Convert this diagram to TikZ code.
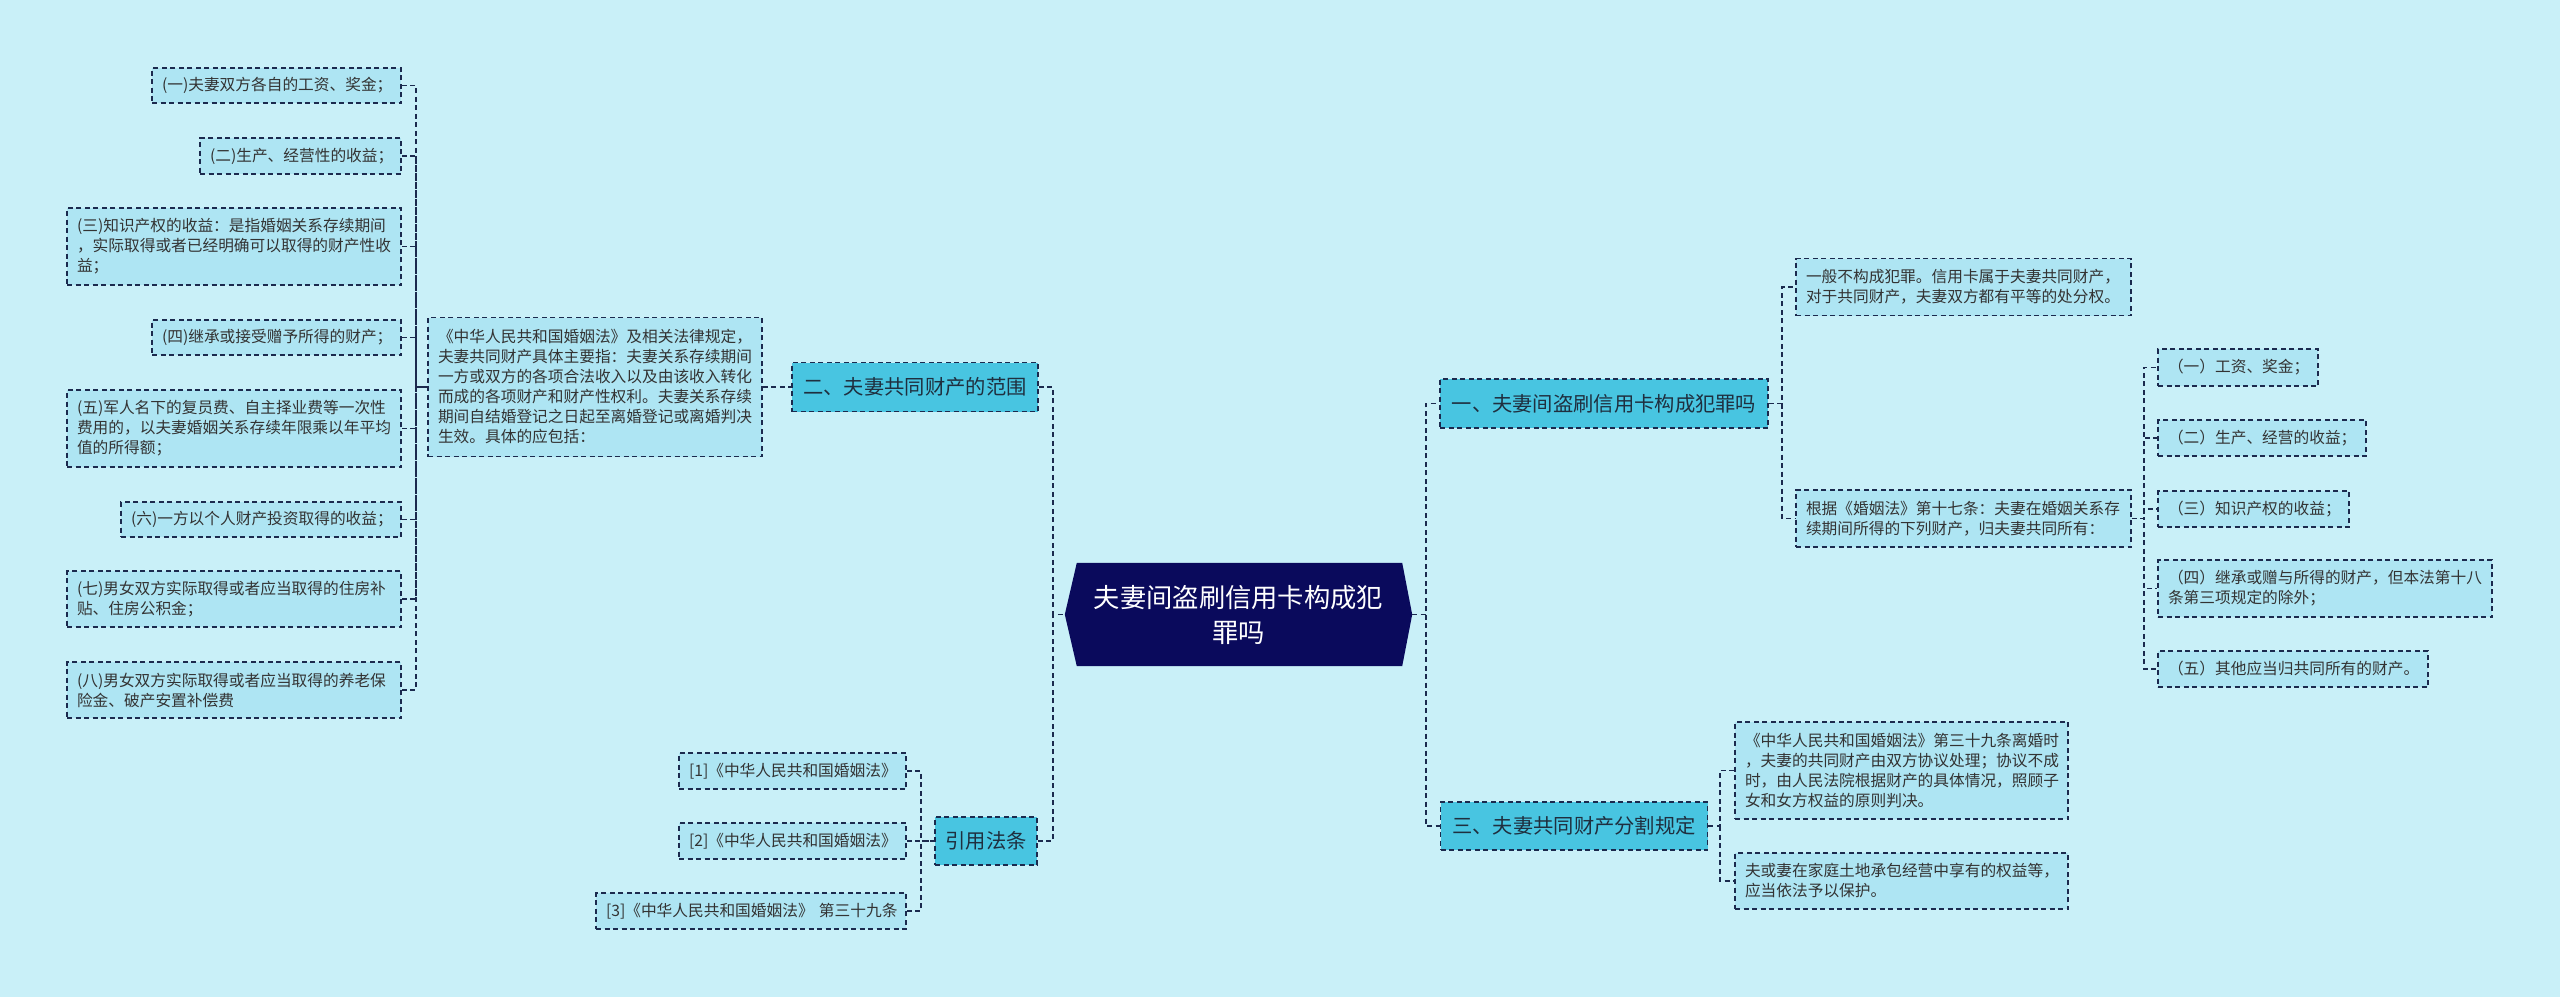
\documentclass[tikz,border=0pt]{standalone}
\usepackage{fontspec}
\setmainfont{Noto Sans CJK SC}
\usetikzlibrary{calc}
\definecolor{bgc}{HTML}{C9F0F8}
\definecolor{leaffill}{HTML}{AEE5F3}
\definecolor{branchfill}{HTML}{48C5E1}
\definecolor{rootfill}{HTML}{0A0A5C}
\definecolor{linec}{HTML}{1B2A4E}
\definecolor{txtc}{HTML}{333333}
\definecolor{btxt}{HTML}{1F2F3F}
\begin{document}
\begin{tikzpicture}[x=1pt,y=-1pt,
  lnk/.style={draw=linec, line width=1.7pt, dash pattern=on 5pt off 3.5pt},
  leafbox/.style={draw=linec, fill=leaffill, line width=1.7pt, dash pattern=on 5pt off 3.5pt,
    inner xsep=10pt, inner ysep=2pt, align=left, text=txtc,
    font=\fontsize{15.7}{20}\selectfont},
  branchbox/.style={draw=linec, fill=branchfill, line width=1.7pt, dash pattern=on 5pt off 3.5pt,
    inner sep=0pt, text=btxt, font=\fontsize{20.3}{24}\selectfont},
]
\useasboundingbox (0,0) rectangle (2560,997);
\fill[bgc] (0,0) rectangle (2560,997);

% root
\node[minimum width=347pt, minimum height=103pt, inner sep=0pt] (root) at (1238.5,614.5) {};
\fill[rootfill] (root.west) -- ([xshift=12pt]root.north west) -- ([xshift=-10pt]root.north east)
  -- (root.east) -- ([xshift=-10pt]root.south east) -- ([xshift=12pt]root.south west) -- cycle;
\node[text=white, align=center, font=\fontsize{26.3}{35}\selectfont] (roottxt) at (root.center) {夫妻间盗刷信用卡构成犯\\罪吗};

% left branch 二
\node[branchbox, minimum width=246pt, minimum height=49pt] (n2) at (915,387) {二、夫妻共同财产的范围};
\node[leafbox, text width=314pt, minimum height=139pt] (d2) at (595,387) {《中华人民共和国婚姻法》及相关法律规定，\\夫妻共同财产具体主要指：夫妻关系存续期间\\一方或双方的各项合法收入以及由该收入转化\\而成的各项财产和财产性权利。夫妻关系存续\\期间自结婚登记之日起至离婚登记或离婚判决\\生效。具体的应包括：};

\node[leafbox, text width=229pt, minimum height=35pt] (l1) at (276.5,85.5) {(一)夫妻双方各自的工资、奖金；};
\node[leafbox, text width=181pt, minimum height=36pt] (l2) at (300.5,156) {(二)生产、经营性的收益；};
\node[leafbox, text width=314pt, minimum height=77pt] (l3) at (234,246.5) {(三)知识产权的收益：是指婚姻关系存续期间\\，实际取得或者已经明确可以取得的财产性收\\益；};
\node[leafbox, text width=229pt, minimum height=35pt] (l4) at (276.5,337.5) {(四)继承或接受赠予所得的财产；};
\node[leafbox, text width=314pt, minimum height=77pt] (l5) at (234,428.5) {(五)军人名下的复员费、自主择业费等一次性\\费用的，以夫妻婚姻关系存续年限乘以年平均\\值的所得额；};
\node[leafbox, text width=260pt, minimum height=35pt] (l6) at (261,519.5) {(六)一方以个人财产投资取得的收益；};
\node[leafbox, text width=314pt, minimum height=56pt] (l7) at (234,599) {(七)男女双方实际取得或者应当取得的住房补\\贴、住房公积金；};
\node[leafbox, text width=314pt, minimum height=56pt] (l8) at (234,690) {(八)男女双方实际取得或者应当取得的养老保\\险金、破产安置补偿费};

% left branch 引用法条
\node[branchbox, minimum width=102pt, minimum height=48pt] (n4) at (986,841) {引用法条};
\node[leafbox, text width=207pt, minimum height=36pt] (r1) at (792.5,771) {[1]《中华人民共和国婚姻法》};
\node[leafbox, text width=207pt, minimum height=36pt] (r2) at (792.5,841) {[2]《中华人民共和国婚姻法》};
\node[leafbox, text width=290pt, minimum height=36pt] (r3) at (751,911) {\mbox{[3]《中华人民共和国婚姻法》 第三十九条}};

% right branch 一
\node[branchbox, minimum width=328pt, minimum height=49pt] (n1) at (1604,403.5) {一、夫妻间盗刷信用卡构成犯罪吗};
\node[leafbox, text width=315pt, minimum height=57pt] (A) at (1963.5,287) {一般不构成犯罪。信用卡属于夫妻共同财产，\\对于共同财产，夫妻双方都有平等的处分权。};
\node[leafbox, text width=315pt, minimum height=57pt] (B) at (1963.5,518.5) {根据《婚姻法》第十七条：夫妻在婚姻关系存\\续期间所得的下列财产，归夫妻共同所有：};
\node[leafbox, text width=140pt, minimum height=37pt] (c1) at (2238,367.5) {（一）工资、奖金；};
\node[leafbox, text width=188pt, minimum height=36pt] (c2) at (2262,438) {（二）生产、经营的收益；};
\node[leafbox, text width=171pt, minimum height=36pt] (c3) at (2253.5,509) {（三）知识产权的收益；};
\node[leafbox, text width=314pt, minimum height=57pt] (c4) at (2325,588.5) {（四）继承或赠与所得的财产，但本法第十八\\条第三项规定的除外；};
\node[leafbox, text width=250pt, minimum height=36pt] (c5) at (2293,669) {（五）其他应当归共同所有的财产。};

% right branch 三
\node[branchbox, minimum width=267pt, minimum height=48pt] (n3) at (1574,826) {三、夫妻共同财产分割规定};
\node[leafbox, text width=313pt, minimum height=97pt] (C) at (1901.5,770.5) {《中华人民共和国婚姻法》第三十九条离婚时\\，夫妻的共同财产由双方协议处理；协议不成\\时，由人民法院根据财产的具体情况，照顾子\\女和女方权益的原则判决。};
\node[leafbox, text width=313pt, minimum height=56pt] (D) at (1901.5,881) {夫或妻在家庭土地承包经营中享有的权益等，\\应当依法予以保护。};

% bus coordinates
\coordinate (rL) at (1053,614.5);
\coordinate (rR) at (1426,614.5);
\coordinate (bd2) at (416,387);
\coordinate (bn4) at (921,841);
\coordinate (bn1) at (1782,403.5);
\coordinate (bB) at (2144,518.5);
\coordinate (bn3) at (1720,826);

% connectors
\draw[lnk] (n2.east) -| (rL) -- (root.west);
\draw[lnk] (n4.east) -| (rL);
\draw[lnk] (root.east) -- (rR) |- (n1.west);
\draw[lnk] (rR) |- (n3.west);
\draw[lnk] (d2.east) -- (n2.west);
\foreach \i in {1,...,8} { \draw[lnk] (l\i.east) -| (bd2) -- (d2.west); }
\foreach \i in {1,2,3} { \draw[lnk] (r\i.east) -| (bn4) -- (n4.west); }
\draw[lnk] (n1.east) -- (bn1) |- (A.west);
\draw[lnk] (bn1) |- (B.west);
\foreach \i in {1,...,5} { \draw[lnk] (B.east) -- (bB) |- (c\i.west); }
\draw[lnk] (n3.east) -- (bn3) |- (C.west);
\draw[lnk] (bn3) |- (D.west);
\end{tikzpicture}
\end{document}
